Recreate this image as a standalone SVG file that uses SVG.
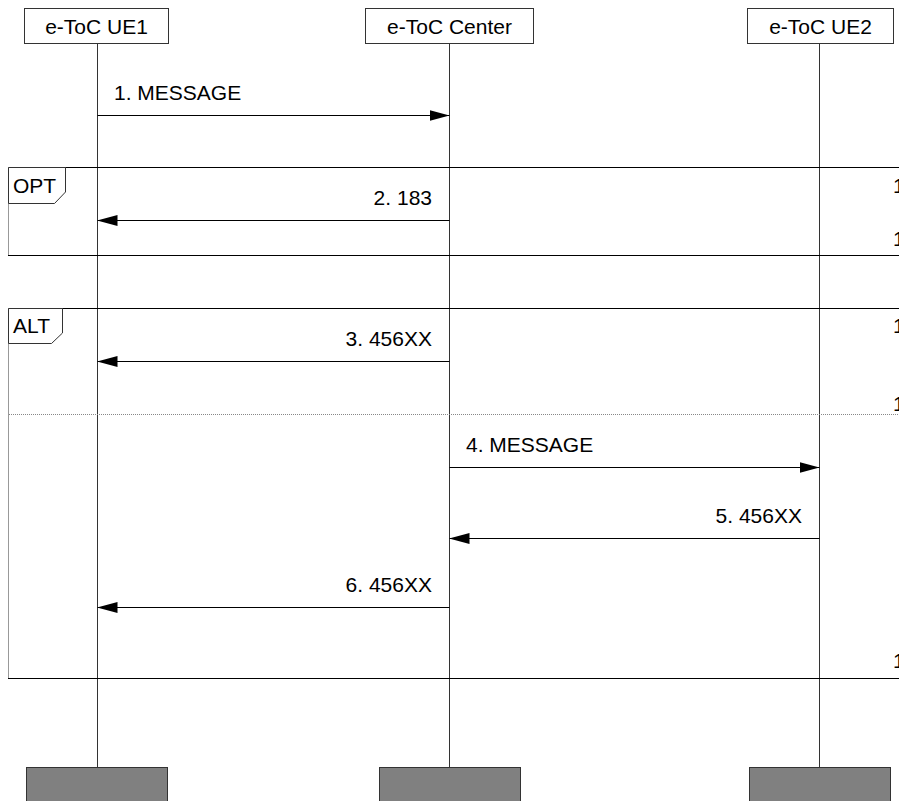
<svg xmlns="http://www.w3.org/2000/svg" width="899" height="801" viewBox="0 0 899 801">
  <style>
    text { font-family: "Liberation Sans", Arial, sans-serif; font-size: 21px; fill: #000; }
    .head { fill: #fff; stroke: #333; stroke-width: 1; }
    .foot { fill: #808080; stroke: #333; stroke-width: 1; }
    .life { stroke: #333; stroke-width: 1; }
    .msg { stroke: #000; stroke-width: 1; fill: none; }
    .frame { stroke: #000; stroke-width: 1; fill: none; }
    .frame-left { stroke: #999; stroke-width: 1; }
    .tab { fill: #fff; stroke: #333; stroke-width: 1; }
    .divider { stroke: #888; stroke-width: 1; stroke-dasharray: 1 1; }
    .end { text-anchor: end; }
    .mid { text-anchor: middle; }
  </style>
  <defs>
    <marker id="arrow" markerWidth="20" markerHeight="11" refX="20" refY="5.5" orient="auto" markerUnits="userSpaceOnUse">
      <path d="M0,0 L20,5.5 L0,11 Z" fill="#000"/>
    </marker>
  </defs>

  <rect width="899" height="801" fill="#fff"/>

  <!-- lifelines -->
  <g id="lifelines">
    <line class="life" x1="97.5" y1="44" x2="97.5" y2="767"/>
    <line class="life" x1="449.5" y1="44" x2="449.5" y2="767"/>
    <line class="life" x1="819.5" y1="44" x2="819.5" y2="767"/>
  </g>

  <!-- combined fragments -->
  <g id="frame-opt">
    <line class="frame" x1="8" y1="167.5" x2="899" y2="167.5"/>
    <line class="frame" x1="8" y1="255.5" x2="899" y2="255.5"/>
    <line class="frame-left" x1="8.5" y1="167" x2="8.5" y2="255"/>
    <path class="tab" d="M8.5,167.5 H65.5 V192 L54.5,203.5 H8.5 Z"/>
    <text x="13" y="193">OPT</text>
    <text x="893" y="193">1</text>
    <text x="893" y="246">1</text>
  </g>

  <g id="frame-alt">
    <line class="frame" x1="8" y1="308.5" x2="899" y2="308.5"/>
    <line class="frame" x1="8" y1="678.5" x2="899" y2="678.5"/>
    <line class="frame-left" x1="8.5" y1="308" x2="8.5" y2="678"/>
    <line class="divider" x1="9" y1="414.5" x2="899" y2="414.5"/>
    <path class="tab" d="M8.5,308.5 H62.5 V333 L51.5,343.5 H8.5 Z"/>
    <text x="13" y="333">ALT</text>
    <text x="893" y="333">1</text>
    <text x="893" y="411">1</text>
    <text x="893" y="668">1</text>
  </g>

  <!-- participants -->
  <g id="ue1">
    <rect class="head" x="24.5" y="8.5" width="144" height="35"/>
    <text class="mid" x="96.5" y="34">e-ToC UE1</text>
    <rect class="foot" x="26.5" y="767.5" width="141" height="40"/>
  </g>
  <g id="center">
    <rect class="head" x="365.5" y="8.5" width="168" height="35"/>
    <text class="mid" x="449.5" y="34">e-ToC Center</text>
    <rect class="foot" x="379.5" y="767.5" width="141" height="40"/>
  </g>
  <g id="ue2">
    <rect class="head" x="747.5" y="8.5" width="146" height="35"/>
    <text class="mid" x="820.5" y="34">e-ToC UE2</text>
    <rect class="foot" x="749.5" y="767.5" width="141" height="40"/>
  </g>

  <!-- messages -->
  <g id="connectors">
    <line class="msg" x1="97.5" y1="115.5" x2="449.5" y2="115.5" marker-end="url(#arrow)"/>
    <text x="114" y="100">1. MESSAGE</text>

    <line class="msg" x1="449.5" y1="220.5" x2="97.5" y2="220.5" marker-end="url(#arrow)"/>
    <text class="end" x="432" y="205">2. 183</text>

    <line class="msg" x1="449.5" y1="361.5" x2="97.5" y2="361.5" marker-end="url(#arrow)"/>
    <text class="end" x="432" y="346">3. 456XX</text>

    <line class="msg" x1="449.5" y1="467.5" x2="819.5" y2="467.5" marker-end="url(#arrow)"/>
    <text x="466" y="452">4. MESSAGE</text>

    <line class="msg" x1="819.5" y1="538.5" x2="449.5" y2="538.5" marker-end="url(#arrow)"/>
    <text class="end" x="802" y="523">5. 456XX</text>

    <line class="msg" x1="449.5" y1="607.5" x2="97.5" y2="607.5" marker-end="url(#arrow)"/>
    <text class="end" x="432" y="592">6. 456XX</text>
  </g>
</svg>
